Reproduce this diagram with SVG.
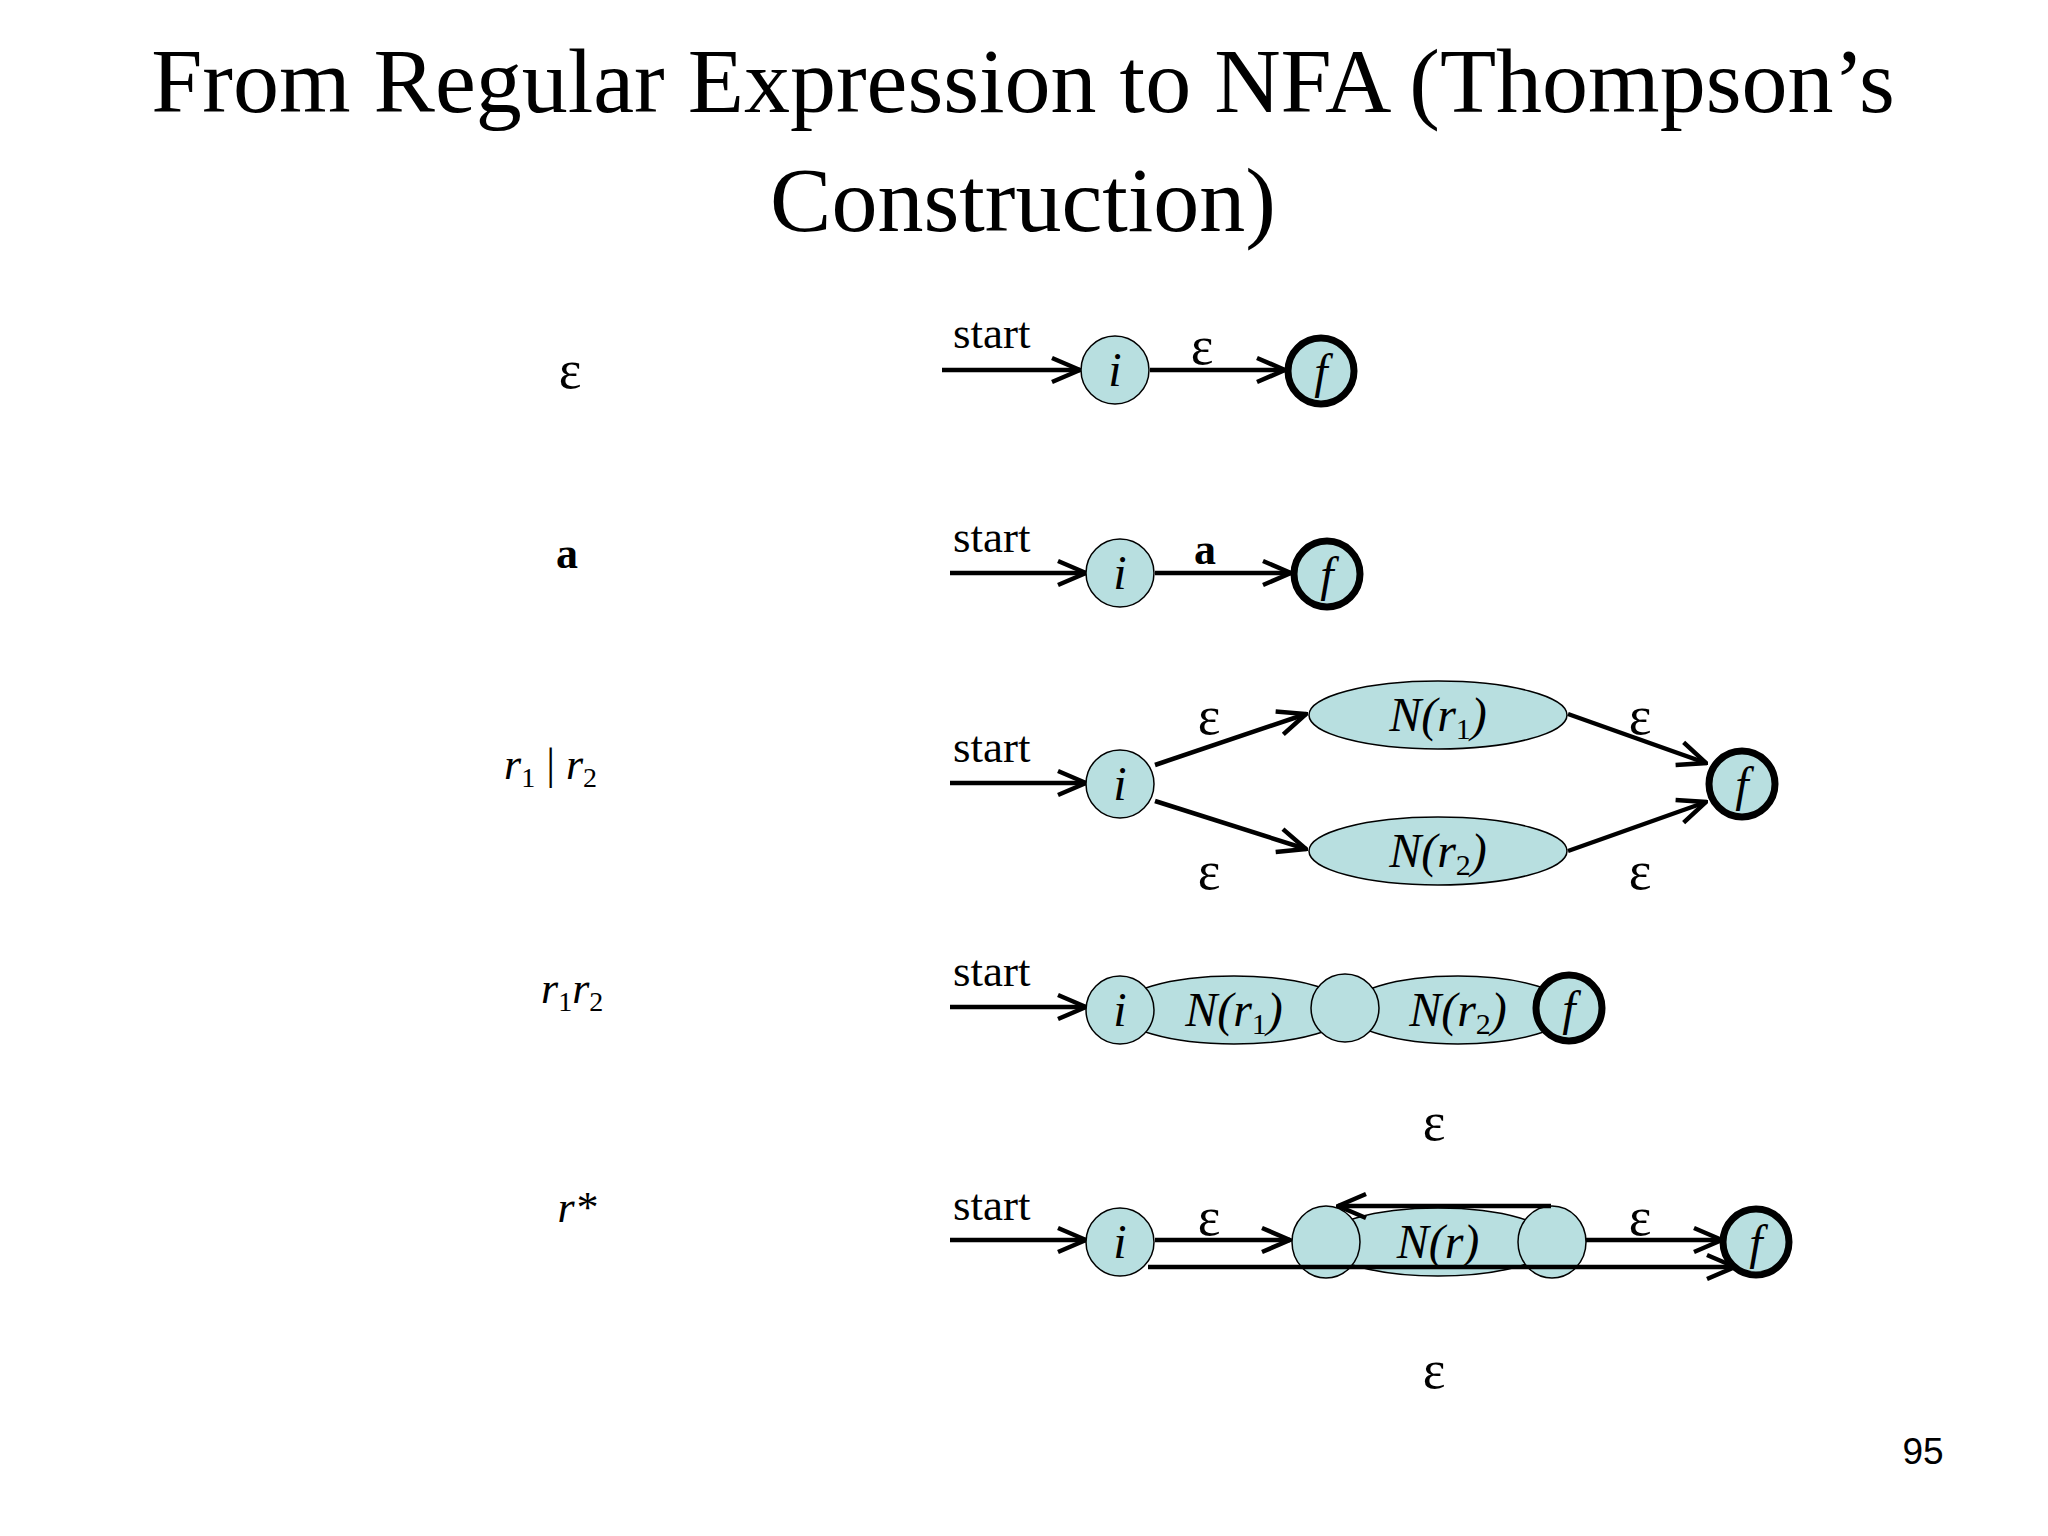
<svg xmlns="http://www.w3.org/2000/svg" width="2048" height="1536" viewBox="0 0 2048 1536">
<style>
text{font-family:"Liberation Serif","Times New Roman",serif;fill:#000}
.t{font-size:92px}
.s{font-size:45px}
.e{font-size:54px}
.it{font-style:italic;font-size:48px}
.st{fill:#b8dfe0;stroke:#000;stroke-width:1.5}
.fin{fill:#b8dfe0;stroke:#000;stroke-width:7}
.ln{stroke:#000;stroke-width:4.5;fill:none;marker-end:url(#ar)}
</style>
<defs>
<marker id="ar" viewBox="-30 -15 32 30" markerWidth="32" markerHeight="30" refX="0" refY="0" orient="auto" markerUnits="userSpaceOnUse">
<path d="M-28,-12 L0,0 L-28,12" fill="none" stroke="#000" stroke-width="4.5"/>
</marker>
</defs>
<rect width="2048" height="1536" fill="#fff"/>
<text class="t" x="1023" y="112" text-anchor="middle">From Regular Expression to NFA (Thompson’s</text>
<text class="t" x="1023" y="231" text-anchor="middle">Construction)</text>
<text x="1923" y="1464" font-family="Liberation Sans,Arial,sans-serif" font-size="37" text-anchor="middle" style="font-family:'Liberation Sans',Arial,sans-serif">95</text>

<g id="labels">
<text class="e" x="570" y="388" text-anchor="middle">ε</text>
<text x="567" y="568" font-size="44" font-weight="bold" text-anchor="middle">a</text>
<text x="504" y="779" font-size="44" font-style="italic">r<tspan font-size="28" font-style="normal" dy="8">1</tspan><tspan dy="-8" font-style="normal"> | </tspan>r<tspan font-size="28" font-style="normal" dy="8">2</tspan></text>
<text x="541" y="1003" font-size="44" font-style="italic">r<tspan font-size="28" font-style="normal" dy="8">1</tspan><tspan dy="-8">r</tspan><tspan font-size="28" font-style="normal" dy="8">2</tspan></text>
<text x="577" y="1222" font-size="44" font-style="italic" text-anchor="middle">r*</text>
</g>

<g id="connectors">
<line class="ln" x1="942" y1="370" x2="1080" y2="370"/>
<line class="ln" x1="1150" y1="370" x2="1285" y2="370"/>
<line class="ln" x1="950" y1="573" x2="1086" y2="573"/>
<line class="ln" x1="1155" y1="573" x2="1291" y2="573"/>
<line class="ln" x1="950" y1="783" x2="1086" y2="783"/>
<line class="ln" x1="1155" y1="765" x2="1306" y2="714"/>
<line class="ln" x1="1155" y1="801" x2="1306" y2="849"/>
<line class="ln" x1="1568" y1="714" x2="1706" y2="763"/>
<line class="ln" x1="1568" y1="851" x2="1706" y2="802"/>
<line class="ln" x1="950" y1="1007" x2="1086" y2="1007"/>
<line class="ln" x1="950" y1="1240" x2="1086" y2="1240"/>
<line class="ln" x1="1155" y1="1240" x2="1290" y2="1240"/>
<line class="ln" x1="1586" y1="1240" x2="1722" y2="1240"/>
</g>

<g id="row1">
<text class="s" x="953" y="348">start</text>
<circle class="st" cx="1115" cy="370" r="34"/><text class="it" x="1115" y="386" text-anchor="middle">i</text>
<text class="e" x="1202" y="364" text-anchor="middle">ε</text>
<circle class="fin" cx="1321" cy="371" r="33"/><text class="it" x="1321" y="388" text-anchor="middle">f</text>
</g>
<g id="row2">
<text class="s" x="953" y="552">start</text>
<circle class="st" cx="1120" cy="573" r="34"/><text class="it" x="1120" y="589" text-anchor="middle">i</text>
<text x="1205" y="564" font-size="44" font-weight="bold" text-anchor="middle">a</text>
<circle class="fin" cx="1327" cy="574" r="33"/><text class="it" x="1327" y="591" text-anchor="middle">f</text>
</g>
<g id="row3">
<text class="s" x="953" y="762">start</text>
<circle class="st" cx="1120" cy="784" r="34"/><text class="it" x="1120" y="800" text-anchor="middle">i</text>
<ellipse class="st" cx="1438" cy="715" rx="129" ry="34"/>
<text class="it" x="1438" y="731" text-anchor="middle">N(r<tspan font-size="30" font-style="normal" dy="8">1</tspan><tspan dy="-8">)</tspan></text>
<ellipse class="st" cx="1438" cy="851" rx="129" ry="34"/>
<text class="it" x="1438" y="867" text-anchor="middle">N(r<tspan font-size="30" font-style="normal" dy="8">2</tspan><tspan dy="-8">)</tspan></text>
<circle class="fin" cx="1742" cy="784" r="33"/><text class="it" x="1742" y="801" text-anchor="middle">f</text>
<text class="e" x="1209" y="734" text-anchor="middle">ε</text>
<text class="e" x="1640" y="734" text-anchor="middle">ε</text>
<text class="e" x="1209" y="889" text-anchor="middle">ε</text>
<text class="e" x="1640" y="889" text-anchor="middle">ε</text>
</g>
<g id="row4">
<text class="s" x="953" y="986">start</text>
<ellipse class="st" cx="1234" cy="1010" rx="116" ry="34"/>
<ellipse class="st" cx="1458" cy="1010" rx="112" ry="34"/>
<circle class="st" cx="1120" cy="1010" r="34"/><text class="it" x="1120" y="1026" text-anchor="middle">i</text>
<circle class="st" cx="1345" cy="1008" r="34"/>
<text class="it" x="1234" y="1026" text-anchor="middle">N(r<tspan font-size="30" font-style="normal" dy="8">1</tspan><tspan dy="-8">)</tspan></text>
<text class="it" x="1458" y="1026" text-anchor="middle">N(r<tspan font-size="30" font-style="normal" dy="8">2</tspan><tspan dy="-8">)</tspan></text>
<circle class="fin" cx="1569" cy="1008" r="33"/><text class="it" x="1569" y="1025" text-anchor="middle">f</text>
</g>
<g id="row5">
<text class="e" x="1434" y="1140" text-anchor="middle">ε</text>
<text class="s" x="953" y="1220">start</text>
<circle class="st" cx="1120" cy="1242" r="34"/><text class="it" x="1120" y="1258" text-anchor="middle">i</text>
<text class="e" x="1209" y="1235" text-anchor="middle">ε</text>
<ellipse class="st" cx="1438" cy="1242" rx="116" ry="34"/>
<ellipse class="st" cx="1326" cy="1242" rx="34" ry="36"/>
<ellipse class="st" cx="1552" cy="1242" rx="34" ry="36"/>
<text class="it" x="1438" y="1258" text-anchor="middle">N(r)</text>
<text class="e" x="1640" y="1235" text-anchor="middle">ε</text>
<circle class="fin" cx="1756" cy="1242" r="33"/><text class="it" x="1756" y="1259" text-anchor="middle">f</text>
<line class="ln" x1="1551" y1="1206" x2="1338" y2="1206"/>
<line class="ln" x1="1148" y1="1267" x2="1735" y2="1267"/>
<text class="e" x="1434" y="1388" text-anchor="middle">ε</text>
</g>
</svg>
